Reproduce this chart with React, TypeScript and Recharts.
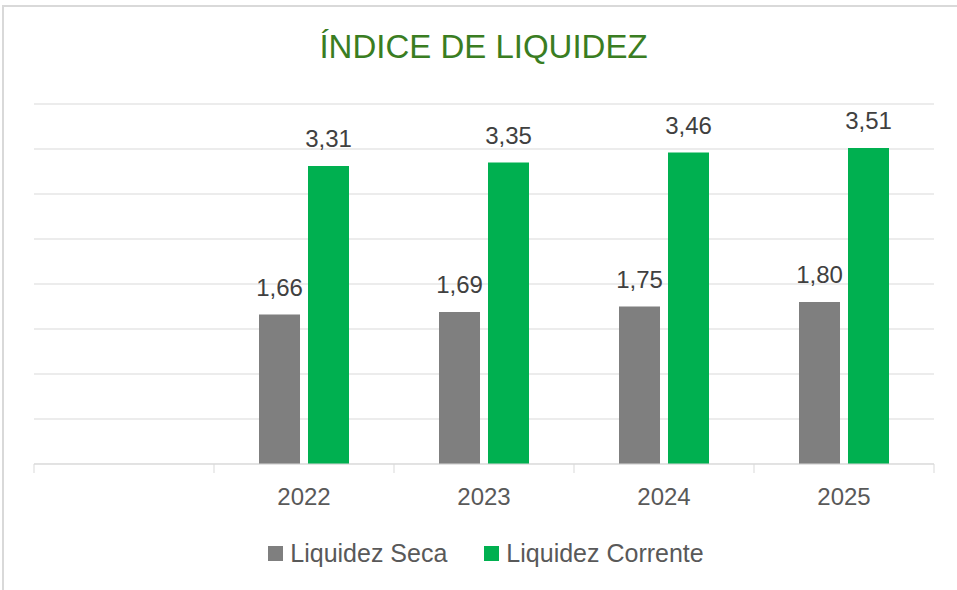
import { BarChart, Bar, XAxis, YAxis, CartesianGrid, LabelList } from "recharts";

const years = ["", "2022", "2023", "2024", "2025"];
const liquidezSeca = [null, 1.66, 1.69, 1.75, 1.8];
const liquidezCorrente = [null, 3.31, 3.35, 3.46, 3.51];
const yTicks = [0, 0.5, 1, 1.5, 2, 2.5, 3, 3.5, 4];

const series = [
    { key: "seca", name: "Liquidez Seca", color: "#7f7f7f" },
    { key: "corrente", name: "Liquidez Corrente", color: "#00b050" },
];

const data = years.map((y, i) => ({ year: y, seca: liquidezSeca[i], corrente: liquidezCorrente[i] }));

const font = "'Liberation Sans', Arial, sans-serif";
const gridColor = "#d9d9d9";

const fmt = (v: any) => (v == null ? "" : Number(v).toFixed(2).replace(".", ","));

function YearTick(props: any) {
    const { x, y, payload, index } = props;
    const half = 90;
    return (
        <g>
            <line x1={x - half} y1={y} x2={x - half} y2={y + 9} stroke={gridColor} />
            {index === years.length - 1 && (
                <line x1={x + half} y1={y} x2={x + half} y2={y + 9} stroke={gridColor} />
            )}
            <text x={x} y={y + 33} dy="0.35em" textAnchor="middle" fill="#595959" fontSize={24} fontFamily={font}>
                {payload.value}
            </text>
        </g>
    );
}

export default function App() {
    return (
        <div style={{ position: "absolute", left: 0, top: 0, width: 957, height: 590, background: "#fff", overflow: "hidden" }}>
            <div style={{ position: "absolute", left: 2, top: 5, width: 1000, height: 700, border: `2px solid ${gridColor}`, boxSizing: "border-box" }} />
            <div style={{ position: "absolute", left: 0, top: 28, width: 967, textAlign: "center", fontFamily: font, fontSize: 33, color: "#3a7d22" }}>
                ÍNDICE DE LIQUIDEZ
            </div>
            <BarChart
                width={957}
                height={590}
                data={data}
                margin={{ top: 104, right: 23, bottom: 96, left: 34 }}
                barSize={41}
                barGap={8}
                style={{ position: "absolute", left: 0, top: 0 }}
            >
                <CartesianGrid vertical={false} stroke={gridColor} />
                <YAxis hide domain={[0, 4]} ticks={yTicks} />
                <XAxis
                    dataKey="year"
                    height={30}
                    interval={0}
                    axisLine={{ stroke: gridColor }}
                    tickLine={false}
                    tickSize={0}
                    tickMargin={0}
                    tick={<YearTick />}
                />
                {series.map((s) => (
                    <Bar key={s.key} dataKey={s.key} name={s.name} fill={s.color} isAnimationActive={false}>
                        <LabelList
                            dataKey={s.key}
                            position="top"
                            offset={19}
                            formatter={fmt}
                            fill="#404040"
                            fontSize={24}
                            fontFamily={font}
                        />
                    </Bar>
                ))}
            </BarChart>
            <div style={{ position: "absolute", left: 0, top: 539, width: 972, display: "flex", justifyContent: "center", gap: 37, fontFamily: font, fontSize: 25, color: "#595959" }}>
                {series.map((s) => (
                    <div key={s.key} style={{ display: "flex", alignItems: "center", gap: 7 }}>
                        <span style={{ display: "inline-block", width: 15, height: 15, background: s.color }} />
                        <span>{s.name}</span>
                    </div>
                ))}
            </div>
        </div>
    );
}
